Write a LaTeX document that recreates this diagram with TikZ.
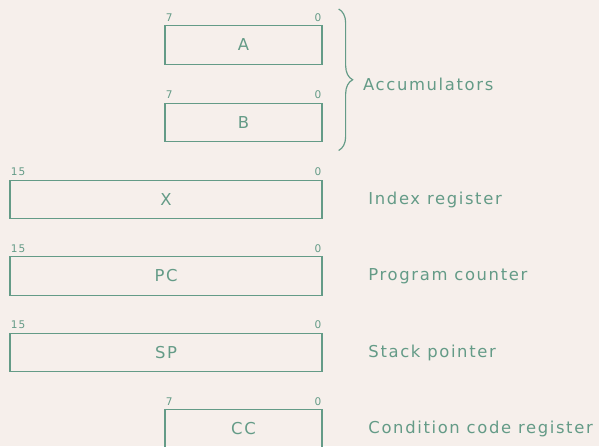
\documentclass[tikz,border=0pt]{standalone}
\usepackage{fontspec}
\setmainfont{DejaVu Sans}[LetterSpace=10]
\usetikzlibrary{positioning,decorations.pathreplacing}
\definecolor{regcol}{RGB}{100,155,135}
\definecolor{papercol}{RGB}{246,239,235}

\begin{document}
\begin{tikzpicture}[x=0.03cm,y=-0.03cm,
    reg/.style={draw=regcol,line width=1.1pt,minimum height=1.16cm,inner sep=0pt,
      text=regcol,font=\fontsize{14}{16}\selectfont},
    bytereg/.style={reg,minimum width=4.71cm},
    wordreg/.style={reg,minimum width=9.36cm},
    bit/.style={text=regcol,inner sep=1pt,yshift=2pt,font=\fontsize{9}{10}\selectfont},
    desc/.style={text=regcol,font=\fontsize{14}{16}\selectfont}]
  \fill[papercol] (0,0) rectangle (599,446);
  \useasboundingbox (0,0) rectangle (599,446);

  \node[bytereg] (regA)  at (243.5,45)    {A};
  \node[bytereg] (regB)  at (243.5,122.5) {B};
  \node[wordreg] (regX)  at (166,199.5)   {X};
  \node[wordreg] (regPC) at (166,276)     {PC};
  \node[wordreg] (regSP) at (166,352.5)   {SP};
  \node[bytereg] (regCC) at (243.5,429)   {CC};

  \foreach \r/\hi in {regA/7,regB/7,regX/15,regPC/15,regSP/15,regCC/7} {
    \node[bit,anchor=south west] (\r hi) at (\r.north west) {\hi};
    \node[bit,anchor=south east] (\r lo) at (\r.north east) {0};
  }

  \coordinate (bracetop) at ([xshift=0.48cm,yshift=0.48cm]regA.north east);
  \coordinate (bracebot) at ([xshift=0.48cm,yshift=-0.24cm]regB.south east);
  \draw[regcol,line width=1pt,decorate,decoration={brace,amplitude=0.42cm}]
    (bracetop) -- node[desc,midway,anchor=west,xshift=0.6cm,yshift=-4pt] (accum) {Accumulators} (bracebot);

  \node[desc,right=1.25cm of regX]  (descX)  {Index register};
  \node[desc,right=1.25cm of regPC] (descPC) {Program counter};
  \node[desc,right=1.25cm of regSP] (descSP) {Stack pointer};
  \node[desc,right=1.25cm of regCC] (descCC) {Condition code register};
\end{tikzpicture}
\end{document}
